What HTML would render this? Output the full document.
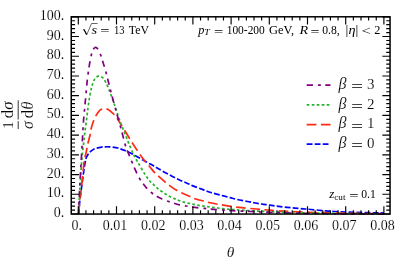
<!DOCTYPE html>
<html><head><meta charset="utf-8"><title>plot</title>
<style>
html,body{margin:0;padding:0;background:#fff;}
body{width:399px;height:264px;overflow:hidden;font-family:"Liberation Serif",serif;}
svg{display:block;will-change:transform;}
.t text,text.t{stroke:#fff;stroke-width:0.14px;paint-order:fill stroke;}
</style></head><body>
<svg width="399" height="264" viewBox="0 0 399 264">
<rect width="399" height="264" fill="#fff"/>
<clipPath id="cp"><rect x="71.25" y="16.80" width="318.80" height="198.05"/></clipPath>
<g fill="none" stroke-width="1.7" clip-path="url(#cp)">
<path d="M78.80 214.00 C78.90 212.50 79.13 208.00 79.40 205.00 C79.67 202.00 80.05 198.83 80.40 196.00 C80.75 193.17 81.17 190.50 81.50 188.00 C81.83 185.50 82.08 183.33 82.40 181.00 C82.72 178.67 83.10 176.17 83.40 174.00 C83.70 171.83 83.90 170.00 84.20 168.00 C84.50 166.00 84.95 163.40 85.20 162.00 C85.45 160.60 85.47 160.43 85.70 159.60 C85.93 158.77 86.22 157.85 86.60 157.00 C86.98 156.15 87.47 155.30 88.00 154.50 C88.53 153.70 88.88 153.05 89.80 152.20 C90.72 151.35 92.47 150.05 93.50 149.40 C94.53 148.75 94.67 148.68 96.00 148.30 C97.33 147.92 100.00 147.35 101.50 147.10 C103.00 146.85 103.75 146.85 105.00 146.80 C106.25 146.75 107.75 146.75 109.00 146.80 C110.25 146.85 111.00 146.90 112.50 147.10 C114.00 147.30 116.67 147.70 118.00 148.00 C119.33 148.30 119.25 148.43 120.50 148.90 C121.75 149.37 123.58 149.98 125.50 150.80 C127.42 151.62 129.67 152.60 132.00 153.80 C134.33 155.00 137.08 156.63 139.50 158.00 C141.92 159.37 144.17 160.70 146.50 162.00 C148.83 163.30 151.58 164.73 153.50 165.80 C155.42 166.87 156.08 167.28 158.00 168.40 C159.92 169.52 162.67 171.20 165.00 172.50 C167.33 173.80 169.67 175.00 172.00 176.20 C174.33 177.40 176.67 178.60 179.00 179.70 C181.33 180.80 183.78 181.82 186.00 182.80 C188.22 183.78 189.57 184.50 192.30 185.60 C195.03 186.70 199.45 188.28 202.40 189.40 C205.35 190.52 207.07 191.37 210.00 192.30 C212.93 193.23 216.67 194.12 220.00 195.00 C223.33 195.88 227.17 196.87 230.00 197.60 C232.83 198.33 234.08 198.75 237.00 199.40 C239.92 200.05 244.42 200.90 247.50 201.50 C250.58 202.10 252.83 202.53 255.50 203.00 C258.17 203.47 260.83 203.90 263.50 204.30 C266.17 204.70 269.00 205.07 271.50 205.40 C274.00 205.73 275.92 205.98 278.50 206.30 C281.08 206.62 284.25 207.00 287.00 207.30 C289.75 207.60 292.33 207.85 295.00 208.10 C297.67 208.35 300.33 208.57 303.00 208.80 C305.67 209.03 307.67 209.20 311.00 209.50 C314.33 209.80 319.00 210.27 323.00 210.60 C327.00 210.93 329.67 211.22 335.00 211.50 C340.33 211.78 348.33 212.08 355.00 212.30 C361.67 212.52 370.17 212.67 375.00 212.80 C379.83 212.93 382.50 213.05 384.00 213.10" stroke="#0000ff" stroke-dasharray="5.8 2.2" stroke-dashoffset="0.4"/>
<path d="M78.70 214.00 C78.92 211.33 79.62 201.67 80.00 198.00 C80.38 194.33 80.57 195.67 81.00 192.00 C81.43 188.33 82.23 179.67 82.60 176.00 C82.97 172.33 82.88 172.92 83.20 170.00 C83.52 167.08 84.12 160.92 84.50 158.50 C84.88 156.08 85.08 157.25 85.50 155.50 C85.92 153.75 86.58 150.08 87.00 148.00 C87.42 145.92 87.50 145.13 88.00 143.00 C88.50 140.87 89.47 137.62 90.00 135.20 C90.53 132.78 90.62 130.87 91.20 128.50 C91.78 126.13 92.70 123.15 93.50 121.00 C94.30 118.85 94.92 117.40 96.00 115.60 C97.08 113.80 98.67 111.35 100.00 110.20 C101.33 109.05 102.67 108.80 104.00 108.70 C105.33 108.60 106.40 108.72 108.00 109.60 C109.60 110.48 112.10 112.57 113.60 114.00 C115.10 115.43 115.85 116.57 117.00 118.20 C118.15 119.83 119.08 121.53 120.50 123.80 C121.92 126.07 123.58 128.68 125.50 131.80 C127.42 134.92 130.08 139.47 132.00 142.50 C133.92 145.53 135.67 148.00 137.00 150.00 C138.33 152.00 138.58 152.50 140.00 154.50 C141.42 156.50 143.83 159.92 145.50 162.00 C147.17 164.08 148.50 165.25 150.00 167.00 C151.50 168.75 153.00 170.90 154.50 172.50 C156.00 174.10 157.17 174.97 159.00 176.60 C160.83 178.23 163.75 180.82 165.50 182.30 C167.25 183.78 167.72 184.20 169.50 185.50 C171.28 186.80 173.73 188.67 176.20 190.10 C178.67 191.53 181.62 192.88 184.30 194.10 C186.98 195.32 190.52 196.62 192.30 197.40 C194.08 198.18 193.05 198.17 195.00 198.80 C196.95 199.43 201.67 200.58 204.00 201.20 C206.33 201.82 206.67 201.98 209.00 202.50 C211.33 203.02 215.67 203.87 218.00 204.30 C220.33 204.73 220.67 204.73 223.00 205.10 C225.33 205.47 228.92 206.07 232.00 206.50 C235.08 206.93 237.42 207.28 241.50 207.70 C245.58 208.12 251.75 208.58 256.50 209.00 C261.25 209.42 264.42 209.78 270.00 210.20 C275.58 210.62 281.67 211.10 290.00 211.50 C298.33 211.90 310.00 212.30 320.00 212.60 C330.00 212.90 339.33 213.10 350.00 213.30 C360.67 213.50 378.33 213.72 384.00 213.80" stroke="#ff2a14" stroke-dasharray="9.73 4.515" stroke-dashoffset="-0.1"/>
<path d="M78.60 214.00 C78.80 210.00 79.33 198.20 79.80 190.00 C80.27 181.80 80.98 170.77 81.40 164.80 C81.82 158.83 81.90 157.98 82.30 154.20 C82.70 150.42 83.38 145.63 83.80 142.10 C84.22 138.57 84.37 136.55 84.80 133.00 C85.23 129.45 85.88 124.87 86.40 120.80 C86.92 116.73 87.35 112.65 87.90 108.60 C88.45 104.55 89.07 100.08 89.70 96.50 C90.33 92.92 90.97 89.83 91.70 87.10 C92.43 84.37 93.30 81.78 94.10 80.10 C94.90 78.42 95.68 77.65 96.50 77.00 C97.32 76.35 98.17 76.20 99.00 76.20 C99.83 76.20 100.75 76.60 101.50 77.00 C102.25 77.40 102.72 77.58 103.50 78.60 C104.28 79.62 105.25 81.18 106.20 83.10 C107.15 85.02 108.27 87.77 109.20 90.10 C110.13 92.43 110.88 94.55 111.80 97.10 C112.72 99.65 113.75 102.60 114.70 105.40 C115.65 108.20 116.45 110.83 117.50 113.90 C118.55 116.97 119.83 120.68 121.00 123.80 C122.17 126.92 123.33 129.63 124.50 132.60 C125.67 135.57 127.08 139.28 128.00 141.60 C128.92 143.92 129.33 144.93 130.00 146.50 C130.67 148.07 131.33 149.53 132.00 151.00 C132.67 152.47 133.25 153.80 134.00 155.30 C134.75 156.80 135.67 158.50 136.50 160.00 C137.33 161.50 137.57 161.87 139.00 164.30 C140.43 166.73 143.27 171.78 145.10 174.60 C146.93 177.42 148.60 179.53 150.00 181.20 C151.40 182.87 152.33 183.50 153.50 184.60 C154.67 185.70 155.75 186.73 157.00 187.80 C158.25 188.87 159.67 190.00 161.00 191.00 C162.33 192.00 163.63 192.93 165.00 193.80 C166.37 194.67 167.73 195.43 169.20 196.20 C170.67 196.97 172.28 197.72 173.80 198.40 C175.32 199.08 176.77 199.72 178.30 200.30 C179.83 200.88 181.38 201.43 183.00 201.90 C184.62 202.37 186.33 202.72 188.00 203.10 C189.67 203.48 191.50 203.87 193.00 204.20 C194.50 204.53 195.42 204.81 197.00 205.10 C198.58 205.39 200.75 205.68 202.50 205.95 C204.25 206.22 205.83 206.46 207.50 206.70 C209.17 206.94 210.83 207.18 212.50 207.40 C214.17 207.62 215.83 207.80 217.50 208.00 C219.17 208.20 220.83 208.42 222.50 208.60 C224.17 208.78 225.83 208.95 227.50 209.10 C229.17 209.25 230.92 209.38 232.50 209.50 C234.08 209.62 234.58 209.68 237.00 209.85 C239.42 210.02 243.67 210.30 247.00 210.50 C250.33 210.70 253.67 210.88 257.00 211.05 C260.33 211.23 261.50 211.31 267.00 211.55 C272.50 211.79 281.17 212.22 290.00 212.50 C298.83 212.78 310.00 213.02 320.00 213.20 C330.00 213.38 339.33 213.48 350.00 213.60 C360.67 213.72 378.33 213.85 384.00 213.90" stroke="#26b22c" stroke-dasharray="2.7 2.3" stroke-dashoffset="1.0"/>
<path d="M78.50 214.00 C78.67 210.33 79.22 198.00 79.50 192.00 C79.78 186.00 79.97 182.27 80.20 178.00 C80.43 173.73 80.63 171.07 80.90 166.40 C81.17 161.73 81.52 155.07 81.80 150.00 C82.08 144.93 82.32 140.83 82.60 136.00 C82.88 131.17 83.18 125.30 83.50 121.00 C83.82 116.70 84.13 114.20 84.50 110.20 C84.87 106.20 85.23 102.03 85.70 97.00 C86.17 91.97 86.77 84.83 87.30 80.00 C87.83 75.17 88.42 71.25 88.90 68.00 C89.38 64.75 89.78 62.72 90.20 60.50 C90.62 58.28 90.90 56.52 91.40 54.70 C91.90 52.88 92.70 50.72 93.20 49.60 C93.70 48.48 94.00 48.37 94.40 48.00 C94.80 47.63 95.20 47.40 95.60 47.40 C96.00 47.40 96.38 47.63 96.80 48.00 C97.22 48.37 97.47 48.48 98.10 49.60 C98.73 50.72 99.88 52.88 100.60 54.70 C101.32 56.52 101.70 58.28 102.40 60.50 C103.10 62.72 103.93 64.98 104.80 68.00 C105.67 71.02 106.65 74.92 107.60 78.60 C108.55 82.28 109.33 85.62 110.50 90.10 C111.67 94.58 113.35 100.85 114.60 105.50 C115.85 110.15 116.77 113.52 118.00 118.00 C119.23 122.48 120.83 128.07 122.00 132.40 C123.17 136.73 124.17 141.07 125.00 144.00 C125.83 146.93 126.25 148.03 127.00 150.00 C127.75 151.97 128.70 153.87 129.50 155.80 C130.30 157.73 130.98 159.60 131.80 161.60 C132.62 163.60 133.20 165.13 134.40 167.80 C135.60 170.47 137.38 174.73 139.00 177.60 C140.62 180.47 142.25 182.67 144.10 185.00 C145.95 187.33 147.95 189.70 150.10 191.60 C152.25 193.50 154.93 195.15 157.00 196.40 C159.07 197.65 160.67 198.28 162.50 199.10 C164.33 199.92 166.08 200.60 168.00 201.30 C169.92 202.00 172.08 202.72 174.00 203.30 C175.92 203.88 177.50 204.35 179.50 204.80 C181.50 205.25 183.42 205.57 186.00 206.00 C188.58 206.43 191.92 207.00 195.00 207.40 C198.08 207.80 201.42 208.08 204.50 208.40 C207.58 208.72 210.42 209.03 213.50 209.30 C216.58 209.57 219.92 209.78 223.00 210.00 C226.08 210.22 227.50 210.35 232.00 210.60 C236.50 210.85 243.83 211.22 250.00 211.50 C256.17 211.78 262.33 212.05 269.00 212.30 C275.67 212.55 281.50 212.78 290.00 213.00 C298.50 213.22 310.00 213.45 320.00 213.60 C330.00 213.75 339.33 213.82 350.00 213.90 C360.67 213.98 378.33 214.07 384.00 214.10" stroke="#800080" stroke-dasharray="6.26 5.05 2.83 4.45" stroke-dashoffset="1.7"/>
</g>
<path d="M78.30 214.05v-7.70M78.30 16.80v7.70M85.94 214.05v-3.80M85.94 16.80v3.80M93.58 214.05v-3.80M93.58 16.80v3.80M101.22 214.05v-3.80M101.22 16.80v3.80M108.86 214.05v-3.80M108.86 16.80v3.80M116.50 214.05v-7.70M116.50 16.80v7.70M124.14 214.05v-3.80M124.14 16.80v3.80M131.78 214.05v-3.80M131.78 16.80v3.80M139.42 214.05v-3.80M139.42 16.80v3.80M147.06 214.05v-3.80M147.06 16.80v3.80M154.70 214.05v-7.70M154.70 16.80v7.70M162.34 214.05v-3.80M162.34 16.80v3.80M169.98 214.05v-3.80M169.98 16.80v3.80M177.62 214.05v-3.80M177.62 16.80v3.80M185.26 214.05v-3.80M185.26 16.80v3.80M192.90 214.05v-7.70M192.90 16.80v7.70M200.54 214.05v-3.80M200.54 16.80v3.80M208.18 214.05v-3.80M208.18 16.80v3.80M215.82 214.05v-3.80M215.82 16.80v3.80M223.46 214.05v-3.80M223.46 16.80v3.80M231.10 214.05v-7.70M231.10 16.80v7.70M238.74 214.05v-3.80M238.74 16.80v3.80M246.38 214.05v-3.80M246.38 16.80v3.80M254.02 214.05v-3.80M254.02 16.80v3.80M261.66 214.05v-3.80M261.66 16.80v3.80M269.30 214.05v-7.70M269.30 16.80v7.70M276.94 214.05v-3.80M276.94 16.80v3.80M284.58 214.05v-3.80M284.58 16.80v3.80M292.22 214.05v-3.80M292.22 16.80v3.80M299.86 214.05v-3.80M299.86 16.80v3.80M307.50 214.05v-7.70M307.50 16.80v7.70M315.14 214.05v-3.80M315.14 16.80v3.80M322.78 214.05v-3.80M322.78 16.80v3.80M330.42 214.05v-3.80M330.42 16.80v3.80M338.06 214.05v-3.80M338.06 16.80v3.80M345.70 214.05v-7.70M345.70 16.80v7.70M353.34 214.05v-3.80M353.34 16.80v3.80M360.98 214.05v-3.80M360.98 16.80v3.80M368.62 214.05v-3.80M368.62 16.80v3.80M376.26 214.05v-3.80M376.26 16.80v3.80M383.90 214.05v-7.70M383.90 16.80v7.70M71.25 214.00h7.70M390.05 214.00h-7.70M71.25 210.06h3.80M390.05 210.06h-3.80M71.25 206.11h3.80M390.05 206.11h-3.80M71.25 202.17h3.80M390.05 202.17h-3.80M71.25 198.22h3.80M390.05 198.22h-3.80M71.25 194.28h7.70M390.05 194.28h-7.70M71.25 190.34h3.80M390.05 190.34h-3.80M71.25 186.39h3.80M390.05 186.39h-3.80M71.25 182.45h3.80M390.05 182.45h-3.80M71.25 178.50h3.80M390.05 178.50h-3.80M71.25 174.56h7.70M390.05 174.56h-7.70M71.25 170.62h3.80M390.05 170.62h-3.80M71.25 166.67h3.80M390.05 166.67h-3.80M71.25 162.73h3.80M390.05 162.73h-3.80M71.25 158.78h3.80M390.05 158.78h-3.80M71.25 154.84h7.70M390.05 154.84h-7.70M71.25 150.90h3.80M390.05 150.90h-3.80M71.25 146.95h3.80M390.05 146.95h-3.80M71.25 143.01h3.80M390.05 143.01h-3.80M71.25 139.06h3.80M390.05 139.06h-3.80M71.25 135.12h7.70M390.05 135.12h-7.70M71.25 131.18h3.80M390.05 131.18h-3.80M71.25 127.23h3.80M390.05 127.23h-3.80M71.25 123.29h3.80M390.05 123.29h-3.80M71.25 119.34h3.80M390.05 119.34h-3.80M71.25 115.40h7.70M390.05 115.40h-7.70M71.25 111.46h3.80M390.05 111.46h-3.80M71.25 107.51h3.80M390.05 107.51h-3.80M71.25 103.57h3.80M390.05 103.57h-3.80M71.25 99.62h3.80M390.05 99.62h-3.80M71.25 95.68h7.70M390.05 95.68h-7.70M71.25 91.74h3.80M390.05 91.74h-3.80M71.25 87.79h3.80M390.05 87.79h-3.80M71.25 83.85h3.80M390.05 83.85h-3.80M71.25 79.90h3.80M390.05 79.90h-3.80M71.25 75.96h7.70M390.05 75.96h-7.70M71.25 72.02h3.80M390.05 72.02h-3.80M71.25 68.07h3.80M390.05 68.07h-3.80M71.25 64.13h3.80M390.05 64.13h-3.80M71.25 60.18h3.80M390.05 60.18h-3.80M71.25 56.24h7.70M390.05 56.24h-7.70M71.25 52.30h3.80M390.05 52.30h-3.80M71.25 48.35h3.80M390.05 48.35h-3.80M71.25 44.41h3.80M390.05 44.41h-3.80M71.25 40.46h3.80M390.05 40.46h-3.80M71.25 36.52h7.70M390.05 36.52h-7.70M71.25 32.58h3.80M390.05 32.58h-3.80M71.25 28.63h3.80M390.05 28.63h-3.80M71.25 24.69h3.80M390.05 24.69h-3.80M71.25 20.74h3.80M390.05 20.74h-3.80M71.25 16.80h7.70M390.05 16.80h-7.70" stroke="#000" stroke-width="1.15" fill="none"/>
<rect x="71.25" y="16.80" width="318.80" height="197.25" fill="none" stroke="#000" stroke-width="1.50"/>
<g class="t" font-family="'Liberation Serif', serif" font-size="14" fill="#000">
<text x="64.2" y="217.00" text-anchor="end">0.</text>
<text x="64.2" y="197.28" text-anchor="end">10.</text>
<text x="64.2" y="177.56" text-anchor="end">20.</text>
<text x="64.2" y="157.84" text-anchor="end">30.</text>
<text x="64.2" y="138.12" text-anchor="end">40.</text>
<text x="64.2" y="118.40" text-anchor="end">50.</text>
<text x="64.2" y="98.68" text-anchor="end">60.</text>
<text x="64.2" y="78.96" text-anchor="end">70.</text>
<text x="64.2" y="59.24" text-anchor="end">80.</text>
<text x="64.2" y="39.52" text-anchor="end">90.</text>
<text x="64.2" y="19.80" text-anchor="end">100.</text>
<text x="76.80" y="230" text-anchor="middle">0.</text>
<text x="115.00" y="230" text-anchor="middle">0.01</text>
<text x="153.20" y="230" text-anchor="middle">0.02</text>
<text x="191.40" y="230" text-anchor="middle">0.03</text>
<text x="229.60" y="230" text-anchor="middle">0.04</text>
<text x="267.80" y="230" text-anchor="middle">0.05</text>
<text x="306.00" y="230" text-anchor="middle">0.06</text>
<text x="344.20" y="230" text-anchor="middle">0.07</text>
<text x="382.40" y="230" text-anchor="middle">0.08</text>
</g>
<g fill="none" stroke-width="1.8">
<path d="M306.70 85.20H330.50" stroke="#800080" stroke-dasharray="6.26 5.05 2.83 4.45"/>
<path d="M306.70 104.90H330.50" stroke="#26b22c" stroke-dasharray="2.7 2.3"/>
<path d="M306.70 124.60H330.50" stroke="#ff2a14" stroke-dasharray="9.73 4.515"/>
<path d="M306.70 144.20H330.50" stroke="#0000ff" stroke-dasharray="5.8 2.2"/>
</g>
<g class="t" font-family="'Liberation Serif', serif" font-size="15" fill="#000">
<text x="338.40" y="88.80" font-size="16" font-style="italic">β</text>
<text transform="translate(351.30 91.10) scale(1.370 1)" font-size="15" style="stroke:#000;stroke-width:0.15px">=</text>
<text x="367.00" y="88.80">3</text>
<text x="338.40" y="108.50" font-size="16" font-style="italic">β</text>
<text transform="translate(351.30 110.80) scale(1.370 1)" font-size="15" style="stroke:#000;stroke-width:0.15px">=</text>
<text x="367.00" y="108.50">2</text>
<text x="338.40" y="128.20" font-size="16" font-style="italic">β</text>
<text transform="translate(351.30 130.50) scale(1.370 1)" font-size="15" style="stroke:#000;stroke-width:0.15px">=</text>
<text x="367.00" y="128.20">1</text>
<text x="338.40" y="147.80" font-size="16" font-style="italic">β</text>
<text transform="translate(351.30 150.10) scale(1.370 1)" font-size="15" style="stroke:#000;stroke-width:0.15px">=</text>
<text x="367.00" y="147.80">0</text>
</g>
<g font-family="'Liberation Serif', serif" font-size="12.3" fill="#000">
<path d="M82.9 30.1L84.0 29.4L86.7 34.9L91.5 23.5H97.6" fill="none" stroke="#000" stroke-width="0.6" stroke-linejoin="miter"/>
<path d="M84.0 29.4L86.6 34.6" fill="none" stroke="#000" stroke-width="1.1"/>
<text transform="translate(91.60 34.00) scale(1.200 1)" font-size="12" font-style="italic">s</text>
<text transform="translate(100.20 35.10) scale(1.370 1)" font-size="12">=</text>
<text transform="translate(113.90 33.60) scale(0.860 1)">13</text>
<text transform="translate(128.80 33.60) scale(0.965 1)">TeV</text>
<text x="198.20" y="33.60" font-style="italic">p</text>
<text transform="translate(204.20 35.40) scale(1.150 1)" font-size="8.5" font-style="italic">T</text>
<text transform="translate(214.00 35.90) scale(1.370 1)" font-size="12">=</text>
<text transform="translate(226.70 33.60) scale(0.930 1)">100-200</text>
<text transform="translate(269.10 33.60) scale(1.010 1)">GeV,</text>
<text transform="translate(299.40 33.60) scale(1.150 1)" font-style="italic">R</text>
<text transform="translate(310.60 35.90) scale(1.330 1)" font-size="12">=</text>
<text transform="translate(322.20 33.60) scale(0.950 1)">0.8,</text>
<text transform="translate(345.60 33.60) scale(1.150 1)">|<tspan font-style="italic">η</tspan>|</text>
<text transform="translate(361.40 35.40) scale(1.370 1)" font-size="12">&lt;</text>
<text x="374.30" y="33.60">2</text>
<text transform="translate(329.30 198.40) scale(1.050 1)" font-size="12.5" font-style="italic">z</text>
<text transform="translate(334.30 200.20) scale(1.080 1)" font-size="8.5">cut</text>
<text transform="translate(349.20 200.40) scale(1.370 1)" font-size="12">=</text>
<text transform="translate(361.20 198.30) scale(0.950 1)">0.1</text>
</g>
<text class="t" x="230.5" y="256.6" text-anchor="middle" font-family="'Liberation Serif', serif" font-style="italic" font-size="15.5">θ</text>
<g class="t" transform="rotate(-90)" font-family="'Liberation Serif', serif" font-size="16" fill="#000" text-anchor="middle">
<text x="-125.00" y="12.5" font-size="15.5">1</text>
<text x="-125.00" y="33.3" font-style="italic">σ</text>
<text transform="translate(-109.90 12.5) scale(1.05 1)">d<tspan font-style="italic">σ</tspan></text>
<text transform="translate(-109.90 33.3) scale(1.05 1)">d<tspan font-style="italic">θ</tspan></text>
<path d="M-129.00 18.2H-121.20M-119.50 18.2H-100.30" stroke="#000" stroke-width="0.8"/>
</g>
</svg>
</body></html>
